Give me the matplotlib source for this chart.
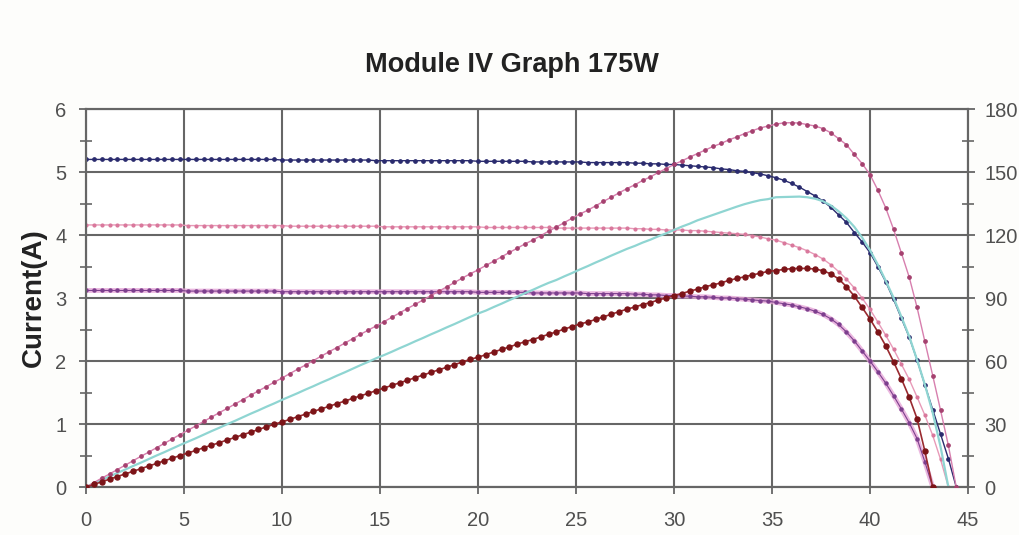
import numpy as np
import matplotlib.pyplot as plt

plt.rcParams['font.family'] = ['Liberation Sans', 'DejaVu Sans']

# sample voltages (V), one every 0.4 V
volts = np.round(np.arange(0, 44.45, 0.4), 1)

# I-V curves (A), left axis
amps_1000 = [5.20, 5.20, 5.20, 5.20, 5.20, 5.20, 5.20, 5.20, 5.20, 5.20,
             5.20, 5.20, 5.20, 5.20, 5.20, 5.20, 5.20, 5.20, 5.20, 5.20,
             5.20, 5.20, 5.20, 5.20, 5.20, 5.19, 5.19, 5.19, 5.19, 5.19,
             5.19, 5.19, 5.19, 5.19, 5.19, 5.19, 5.19, 5.18, 5.18, 5.18,
             5.18, 5.18, 5.18, 5.18, 5.18, 5.18, 5.18, 5.18, 5.18, 5.18,
             5.17, 5.17, 5.17, 5.17, 5.17, 5.17, 5.17, 5.16, 5.16, 5.16,
             5.16, 5.16, 5.16, 5.16, 5.15, 5.15, 5.15, 5.15, 5.15, 5.15,
             5.14, 5.14, 5.13, 5.13, 5.12, 5.12, 5.11, 5.10, 5.09, 5.08,
             5.07, 5.05, 5.04, 5.02, 5.01, 4.99, 4.97, 4.94, 4.91, 4.87,
             4.82, 4.76, 4.69, 4.62, 4.54, 4.44, 4.32, 4.20, 4.04, 3.89,
             3.72, 3.50, 3.26, 2.98, 2.68, 2.38, 2.02, 1.62, 1.23, 0.84,
             0.45, 0.00]

amps_800 = [4.16, 4.16, 4.16, 4.16, 4.16, 4.16, 4.16, 4.16, 4.16, 4.16,
            4.16, 4.16, 4.16, 4.15, 4.15, 4.15, 4.15, 4.15, 4.15, 4.15,
            4.15, 4.15, 4.15, 4.15, 4.15, 4.15, 4.14, 4.14, 4.14, 4.14,
            4.14, 4.14, 4.14, 4.14, 4.14, 4.14, 4.14, 4.14, 4.13, 4.13,
            4.13, 4.13, 4.13, 4.13, 4.13, 4.13, 4.13, 4.13, 4.13, 4.13,
            4.13, 4.12, 4.12, 4.12, 4.12, 4.12, 4.12, 4.12, 4.12, 4.12,
            4.11, 4.11, 4.11, 4.11, 4.11, 4.11, 4.11, 4.11, 4.11, 4.11,
            4.10, 4.10, 4.09, 4.09, 4.08, 4.08, 4.08, 4.07, 4.07, 4.06,
            4.05, 4.04, 4.03, 4.02, 4.01, 3.99, 3.97, 3.94, 3.92, 3.88,
            3.84, 3.80, 3.75, 3.69, 3.62, 3.53, 3.42, 3.30, 3.16, 3.00,
            2.82, 2.62, 2.41, 2.19, 1.95, 1.71, 1.43, 1.14, 0.82, 0.44,
            0.00]

amps_600 = [3.12, 3.12, 3.12, 3.12, 3.12, 3.12, 3.12, 3.12, 3.12, 3.12,
            3.12, 3.12, 3.12, 3.11, 3.11, 3.11, 3.11, 3.11, 3.11, 3.11,
            3.11, 3.11, 3.11, 3.11, 3.11, 3.10, 3.10, 3.10, 3.10, 3.10,
            3.10, 3.10, 3.10, 3.10, 3.10, 3.10, 3.10, 3.10, 3.10, 3.10,
            3.10, 3.10, 3.10, 3.10, 3.10, 3.10, 3.10, 3.10, 3.10, 3.10,
            3.09, 3.09, 3.09, 3.09, 3.09, 3.09, 3.09, 3.08, 3.08, 3.08,
            3.08, 3.08, 3.08, 3.08, 3.07, 3.07, 3.07, 3.07, 3.07, 3.07,
            3.06, 3.06, 3.05, 3.05, 3.04, 3.04, 3.03, 3.03, 3.02, 3.02,
            3.01, 3.00, 3.00, 2.99, 2.98, 2.97, 2.96, 2.95, 2.93, 2.91,
            2.89, 2.86, 2.83, 2.79, 2.74, 2.67, 2.58, 2.46, 2.32, 2.16,
            2.00, 1.83, 1.65, 1.45, 1.24, 1.02, 0.77, 0.40, 0.00]

# power curves (W), right axis
watts_1000 = [0.0, 2.1, 4.2, 6.2, 8.3, 10.4, 12.5, 14.6, 16.6, 18.7,
              20.8, 22.9, 25.0, 27.0, 29.1, 31.2, 33.3, 35.4, 37.4, 39.5,
              41.6, 43.7, 45.8, 47.8, 49.9, 51.9, 54.0, 56.1, 58.1, 60.2,
              62.3, 64.4, 66.4, 68.5, 70.6, 72.7, 74.7, 76.7, 78.7, 80.8,
              82.9, 85.0, 87.0, 89.1, 91.2, 93.2, 95.3, 97.4, 99.5, 101.5,
              103.4, 105.5, 107.5, 109.6, 111.7, 113.7, 115.8, 117.6, 119.7, 121.8,
              123.8, 125.9, 128.0, 130.0, 131.8, 133.9, 136.0, 138.0, 140.1, 142.1,
              143.9, 146.0, 147.7, 149.8, 151.6, 153.6, 155.3, 157.1, 158.8, 160.5,
              162.2, 163.6, 165.3, 166.7, 168.3, 169.7, 171.0, 171.9, 172.8, 173.4,
              173.5, 173.3, 172.6, 171.9, 170.7, 168.7, 165.9, 163.0, 158.4, 154.0,
              148.8, 141.4, 133.0, 122.8, 111.5, 100.0, 85.6, 69.3, 53.1, 36.6,
              19.8, 0.0]

watts_800 = [0.0, 1.7, 3.3, 5.0, 6.7, 8.3, 10.0, 11.6, 13.3, 15.0,
             16.6, 18.3, 20.0, 21.6, 23.2, 24.9, 26.6, 28.2, 29.9, 31.5,
             33.2, 34.9, 36.5, 38.2, 39.8, 41.5, 43.1, 44.7, 46.4, 48.0,
             49.7, 51.3, 53.0, 54.6, 56.3, 58.0, 59.6, 61.3, 62.8, 64.4,
             66.1, 67.7, 69.4, 71.0, 72.7, 74.3, 76.0, 77.6, 79.3, 81.0,
             82.6, 84.0, 85.7, 87.3, 89.0, 90.6, 92.3, 93.9, 95.6, 97.2,
             98.6, 100.3, 101.9, 103.6, 105.2, 106.9, 108.5, 110.2, 111.8, 113.4,
             114.8, 116.4, 117.8, 119.4, 120.8, 122.4, 124.0, 125.4, 127.0, 128.3,
             129.6, 130.9, 132.2, 133.5, 134.7, 135.7, 136.6, 137.1, 138.0, 138.1,
             138.2, 138.3, 138.0, 137.3, 136.1, 134.1, 131.3, 128.0, 123.9, 118.8,
             112.8, 105.9, 98.3, 90.2, 81.1, 71.8, 60.6, 48.8, 35.4, 19.2,
             0.0]

watts_600 = [0.0, 1.2, 2.5, 3.7, 5.0, 6.2, 7.5, 8.7, 10.0, 11.2,
             12.5, 13.7, 15.0, 16.2, 17.4, 18.7, 19.9, 21.1, 22.4, 23.6,
             24.9, 26.1, 27.4, 28.6, 29.9, 31.0, 32.2, 33.5, 34.7, 36.0,
             37.2, 38.4, 39.7, 40.9, 42.2, 43.4, 44.6, 45.9, 47.1, 48.4,
             49.6, 50.8, 52.1, 53.3, 54.6, 55.8, 57.0, 58.3, 59.5, 60.8,
             61.8, 63.0, 64.3, 65.5, 66.7, 68.0, 69.2, 70.2, 71.5, 72.7,
             73.9, 75.2, 76.4, 77.6, 78.6, 79.8, 81.0, 82.3, 83.5, 84.7,
             85.7, 86.9, 87.8, 89.1, 90.0, 91.2, 92.1, 93.3, 94.2, 95.4,
             96.3, 97.2, 98.4, 99.3, 100.1, 101.0, 101.8, 102.7, 103.1, 103.6,
             104.0, 104.1, 104.1, 103.8, 103.0, 101.5, 99.1, 95.4, 90.9, 85.5,
             80.0, 73.9, 67.3, 59.7, 51.6, 42.8, 32.6, 17.1, 0.0]

x_ticks = [0, 5, 10, 15, 20, 25, 30, 35, 40, 45]
amp_ticks = [0, 1, 2, 3, 4, 5, 6]
watt_ticks = [0, 30, 60, 90, 120, 150, 180]

fig = plt.figure(figsize=(10.2, 5.35), dpi=100)
fig.patch.set_facecolor('#fdfdfb')
ax = fig.add_axes([0.0843, 0.0897, 0.8647, 0.7065])
ax.set_facecolor('white')
ax2 = ax.twinx()


def v(arr):
    return volts[:len(arr)]


# current curves
ax.plot(v(amps_600), amps_600, color='#e6a6d8', lw=3.5, alpha=0.8, zorder=2)
ax.plot(v(amps_600), amps_600, color='#7d3f8e', lw=0.8, marker='o', ms=2.2,
        zorder=3)
ax.plot(v(amps_800), amps_800, color='#e89ab8', lw=1.0, marker='o', ms=2.0,
        mfc='#d9789c', mec='#d9789c', zorder=3)
ax.plot(v(amps_1000), amps_1000, color='#2a2b6e', lw=1.0, marker='o', ms=2.4,
        zorder=4)

# power curves
ax2.plot(v(watts_800), watts_800, color='#8fd5d2', lw=1.6, zorder=2)
ax2.plot(v(watts_1000), watts_1000, color='#d77fae', lw=1.0, marker='o',
         ms=2.4, mfc='#a5416f', mec='#a5416f', zorder=3)
ax2.plot(v(watts_600), watts_600, color='#9a2a30', lw=1.2, marker='o',
         ms=3.6, mfc='#7c1418', mec='#7c1418', zorder=4)

ax.set_xlim(0, 45)
ax.set_ylim(0, 6)
ax2.set_ylim(0, 180)
ax.set_xticks(x_ticks)
ax.set_yticks(amp_ticks)
ax2.set_yticks(watt_ticks)
ax.set_yticks(np.arange(0.5, 6, 1), minor=True)
ax2.set_yticks(np.arange(15, 180, 30), minor=True)

ax.grid(True, color='#666666', lw=1.5)
for a in (ax, ax2):
    for s in a.spines.values():
        s.set_color('#666666')
        s.set_linewidth(1.5)

ax.tick_params(axis='both', which='major', length=5, width=1.3,
               color='#666666', labelsize=14.5, labelcolor='#505050', pad=9)
ax.tick_params(axis='x', which='major', pad=12)
ax.tick_params(axis='y', which='minor', direction='inout', length=8,
               width=1.2, color='#666666')
ax2.tick_params(axis='y', which='major', length=5, width=1.3,
                color='#666666', labelsize=14.5, labelcolor='#505050', pad=7)
ax2.tick_params(axis='y', which='minor', direction='inout', length=8,
                width=1.2, color='#666666')

ax.set_ylabel('Current(A)', fontsize=20, fontweight='bold', color='#222222',
              labelpad=6)
fig.text(0.502, 0.878, 'Module IV Graph 175W', ha='center', va='center',
         fontsize=19.5, fontweight='bold', color='#222222')

plt.savefig('out.png', dpi=100, facecolor=fig.get_facecolor())
